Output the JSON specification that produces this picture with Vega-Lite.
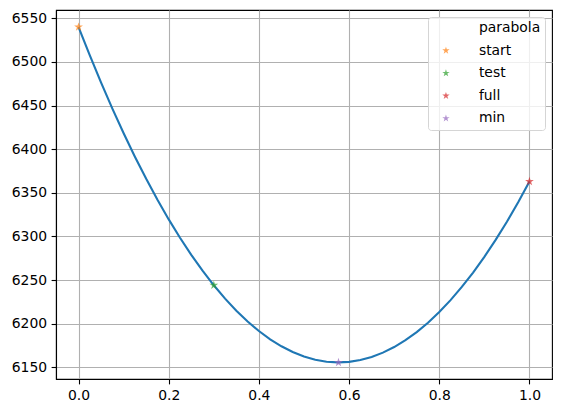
{
  "$schema": "https://vega.github.io/schema/vega-lite/v6.json",
  "width": 496,
  "height": 369,
  "autosize": {"type": "none"},
  "padding": {"left": 56, "top": 10, "right": 9, "bottom": 34},
  "background": "white",
  "config": {
    "view": {"stroke": "black", "strokeWidth": 1.1},
    "axis": {
      "labelFont": "DejaVu Sans",
      "labelFontSize": 13.9,
      "labelColor": "black",
      "domainColor": "black",
      "domainWidth": 1.1,
      "tickColor": "black",
      "tickWidth": 1.1,
      "tickSize": 4.9,
      "labelPadding": 4.5,
      "grid": true,
      "gridColor": "#b0b0b0",
      "gridWidth": 1.1
    }
  },
  "layer": [
    {
      "data": {"values": [
        {"x": 0.0, "y": 6540.0},
        {"x": 0.025, "y": 6507.4},
        {"x": 0.05, "y": 6476.2},
        {"x": 0.075, "y": 6446.5},
        {"x": 0.1, "y": 6418.2},
        {"x": 0.125, "y": 6391.4},
        {"x": 0.15, "y": 6366.0},
        {"x": 0.175, "y": 6342.0},
        {"x": 0.2, "y": 6319.5},
        {"x": 0.225, "y": 6298.5},
        {"x": 0.25, "y": 6278.9},
        {"x": 0.275, "y": 6260.7},
        {"x": 0.3, "y": 6244.0},
        {"x": 0.325, "y": 6228.7},
        {"x": 0.35, "y": 6214.9},
        {"x": 0.375, "y": 6202.5},
        {"x": 0.4, "y": 6191.6},
        {"x": 0.425, "y": 6182.1},
        {"x": 0.45, "y": 6174.1},
        {"x": 0.475, "y": 6167.5},
        {"x": 0.5, "y": 6162.3},
        {"x": 0.525, "y": 6158.6},
        {"x": 0.55, "y": 6156.4},
        {"x": 0.575, "y": 6155.6},
        {"x": 0.6, "y": 6156.2},
        {"x": 0.625, "y": 6158.3},
        {"x": 0.65, "y": 6161.8},
        {"x": 0.675, "y": 6166.8},
        {"x": 0.7, "y": 6173.2},
        {"x": 0.725, "y": 6181.1},
        {"x": 0.75, "y": 6190.4},
        {"x": 0.775, "y": 6201.1},
        {"x": 0.8, "y": 6213.3},
        {"x": 0.825, "y": 6227.0},
        {"x": 0.85, "y": 6242.1},
        {"x": 0.875, "y": 6258.6},
        {"x": 0.9, "y": 6276.6},
        {"x": 0.925, "y": 6296.0},
        {"x": 0.95, "y": 6316.9},
        {"x": 0.975, "y": 6339.2},
        {"x": 1.0, "y": 6363.0}
      ]},
      "mark": {"type": "line", "color": "#1f77b4", "strokeWidth": 2.1},
      "encoding": {
        "x": {"field": "x", "type": "quantitative", "scale": {"domain": [-0.05, 1.05], "nice": false, "zero": false},
              "axis": {"title": null, "values": [0, 0.2, 0.4, 0.6, 0.8, 1.0], "format": ".1f"}},
        "y": {"field": "y", "type": "quantitative", "scale": {"domain": [6136.6, 6559.5], "nice": false, "zero": false},
              "axis": {"title": null, "values": [6150, 6200, 6250, 6300, 6350, 6400, 6450, 6500, 6550], "format": "d"}}
      }
    },
    {
      "data": {"values": [
        {"series": "start", "x": 0.0, "y": 6540.0},
        {"series": "test", "x": 0.3, "y": 6244.0},
        {"series": "full", "x": 1.0, "y": 6363.0},
        {"series": "min", "x": 0.5765, "y": 6155.6}
      ]},
      "mark": {"type": "point", "filled": true, "size": 85},
      "encoding": {
        "x": {"field": "x", "type": "quantitative"},
        "y": {"field": "y", "type": "quantitative"},
        "color": {
          "field": "series", "type": "nominal",
          "scale": {"domain": ["parabola", "start", "test", "full", "min"], "range": ["#1f77b4", "#ff7f0e", "#2ca02c", "#d62728", "#9467bd"]},
          "legend": {
            "title": null,
            "orient": "top-right",
            "offset": 7,
            "padding": 4,
            "rowPadding": 7.6,
            "symbolSize": 60,
            "symbolStrokeWidth": 1.4,
            "symbolOffset": 7,
            "labelOffset": 26,
            "labelFont": "DejaVu Sans",
            "labelFontSize": 13.9,
            "labelColor": "black",
            "fillColor": "rgba(255,255,255,0.8)",
            "strokeColor": "#d5d5d5",
            "cornerRadius": 3,
            "encode": {
              "symbols": {"update": {
                "stroke": {"scale": "color", "field": "value"},
                "opacity": {"value": 1}
              }}
            }
          }
        },
        "shape": {
          "field": "series", "type": "nominal",
          "scale": {"domain": ["parabola", "start", "test", "full", "min"], "range": [
            "M-3.9,0L3.9,0",
            "M0,-1L0.225,-0.309L0.951,-0.309L0.363,0.118L0.588,0.809L0,0.382L-0.588,0.809L-0.363,0.118L-0.951,-0.309L-0.225,-0.309Z",
            "M0,-1L0.225,-0.309L0.951,-0.309L0.363,0.118L0.588,0.809L0,0.382L-0.588,0.809L-0.363,0.118L-0.951,-0.309L-0.225,-0.309Z",
            "M0,-1L0.225,-0.309L0.951,-0.309L0.363,0.118L0.588,0.809L0,0.382L-0.588,0.809L-0.363,0.118L-0.951,-0.309L-0.225,-0.309Z",
            "M0,-1L0.225,-0.309L0.951,-0.309L0.363,0.118L0.588,0.809L0,0.382L-0.588,0.809L-0.363,0.118L-0.951,-0.309L-0.225,-0.309Z"
          ]},
          "legend": {"title": null}
        }
      }
    }
  ]
}
